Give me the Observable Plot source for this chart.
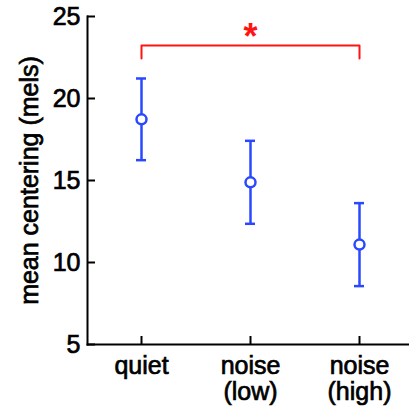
<!DOCTYPE html>
<html><head><meta charset="utf-8">
<script src="https://cdn.jsdelivr.net/npm/d3@7"></script>
<script src="https://cdn.jsdelivr.net/npm/@observablehq/plot@0.6"></script>
<style>
body{margin:0;background:#fff}
g[aria-label$="tick label"] text, g[aria-label$="axis label"] text {stroke:#000; stroke-width:0.7px; paint-order:stroke;}
</style>
</head><body><div id="chart"></div>
<script>
const conditions = ["quiet", "noise (low)", "noise (high)"];
const tickLabels = ["quiet", "noise\n(low)", "noise\n(high)"];
const means = [18.73, 14.89, 11.09];
const lower = [16.24, 12.36, 8.56];
const upper = [21.22, 17.42, 13.62];
const yTicks = [5, 10, 15, 20, 25];
const bracketFrom = "quiet";
const bracketTo = "noise (high)";
const bracketTop = 23.23;
const bracketFoot = 22.44;
const sigLabel = "*";
const sigAt = "noise (low)";
const sigY = 23.7;

const data = conditions.map((c, i) => ({c, mean: means[i], lo: lower[i], hi: upper[i]}));
const bracket = [
  {c: bracketFrom, y: bracketFoot}, {c: bracketFrom, y: bracketTop},
  {c: bracketTo, y: bracketTop}, {c: bracketTo, y: bracketFoot}
];
const blue = "#2a48ff";
const red = "#ff1414";

const chart = Plot.plot({
  width: 409, height: 407,
  marginLeft: 87, marginRight: 0, marginTop: 16, marginBottom: 63,
  style: {fontFamily: "'Liberation Sans', Arial, sans-serif", fontSize: "25px", color: "#000", background: "#fff"},
  x: {type: "band", domain: conditions, paddingInner: 0.908, paddingOuter: 0.454, insetRight: -5},
  y: {domain: [5, 25]},
  marks: [
    Plot.frame({anchor: "left", strokeWidth: 2}),
    Plot.frame({anchor: "bottom", strokeWidth: 2}),
    Plot.axisY({ticks: yTicks, tickSize: -8, tickPadding: 15, strokeWidth: 2,
      label: "mean centering (mels)", labelAnchor: "center", labelArrow: "none", labelOffset: 67}),
    Plot.axisX({tickSize: -8, tickPadding: 19, strokeWidth: 2, label: null,
      tickFormat: d => tickLabels[conditions.indexOf(d)], lineHeight: 1.04}),
    Plot.ruleX(data, {x: "c", y1: "lo", y2: "hi", stroke: blue, strokeWidth: 2.5}),
    Plot.tickY(data, {x: "c", y: "lo", stroke: blue, strokeWidth: 2.5}),
    Plot.tickY(data, {x: "c", y: "hi", stroke: blue, strokeWidth: 2.5}),
    Plot.dot(data, {x: "c", y: "mean", r: 5, stroke: blue, fill: "white", strokeWidth: 2.5}),
    Plot.line(bracket, {x: "c", y: "y", stroke: red, strokeWidth: 2}),
    Plot.text([sigLabel], {x: () => sigAt, y: () => sigY, text: d => d, fill: red, fontSize: 36, fontWeight: "bold"})
  ]
});
document.getElementById("chart").appendChild(chart);
</script>
</body></html>
